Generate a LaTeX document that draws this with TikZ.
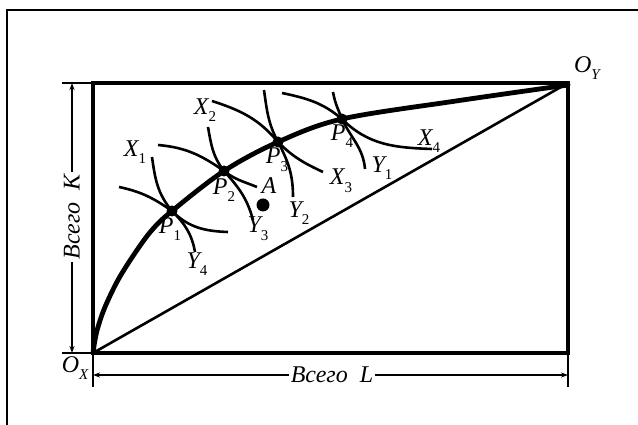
\documentclass[tikz,border=0pt]{standalone}
\usepackage{fontspec}
\setmainfont{Liberation Serif}
\usetikzlibrary{arrows.meta}
\newcommand{\lb}[2]{\textit{#1}\raisebox{-0.32em}{\fontsize{15}{15}\selectfont #2}}
\begin{document}
\begin{tikzpicture}[x=1pt,y=1pt,
  box/.style={line width=3.8pt},
  ccurve/.style={line width=4.8pt, line cap=round},
  icurve/.style={line width=2.6pt},
  diag/.style={line width=2.6pt},
  dim/.style={line width=1.3pt},
  dimarrow/.style={dim, {Stealth[length=7pt,width=5pt]}-{Stealth[length=7pt,width=5pt]}},
  lab/.style={font=\fontsize{24}{26}\selectfont\itshape, inner sep=0pt},
  dimlab/.style={font=\fontsize{24}{26}\selectfont\itshape, fill=white, inner sep=2pt},
  pdot/.style={circle, fill, inner sep=0pt, minimum size=11pt},
  adot/.style={circle, fill, inner sep=0pt, minimum size=13pt},
]
\useasboundingbox (0,0) rectangle (638,425);
% outer frame
\coordinate (fa) at (7,0);
\coordinate (fb) at (7,415);
\coordinate (fc) at (638,415);
\draw[line width=1.6pt] (fa) -- (fb) -- (fc);

% corners
\coordinate (OX) at (93,72);
\coordinate (OY) at (568,342);
\coordinate (BR) at (568,72);
\coordinate (TL) at (93,342);

% points
\node[pdot] (P1) at (172,214) {};
\node[pdot] (P2) at (224,254) {};
\node[pdot] (P3) at (278,283) {};
\node[pdot] (P4) at (342,306) {};
\node[adot] (A) at (263,220) {};

% box
\draw[box] (OX) rectangle (OY);

% diagonal
\draw[diag] (OX) -- (OY);

% contract curve
\draw[ccurve] plot[smooth, tension=0.55] coordinates {(OX) (95,85) (98,98) (105,118) (118,145) (135,172) (152,195) (P1.center) (P2.center) (P3.center) (P4.center) (456,324) (568,340)};

% indifference curves
\coordinate (sX1) at (152,268); \coordinate (eX1) at (228,193);
\coordinate (sY4) at (119,238); \coordinate (eY4) at (195,173);
\draw[icurve] (sX1) to[out=-82,in=130] (P1.center) to[out=-45,in=178] (eX1);
\draw[icurve] (sY4) to[out=-12,in=145] (P1.center) to[out=-45,in=100] (eY4);

\coordinate (sX2) at (208,298); \coordinate (eX2) at (257,238);
\coordinate (sY3) at (158,280); \coordinate (eY3) at (253,205);
\draw[icurve] (sX2) to[out=-80,in=128] (P2.center) to[out=-38,in=158] (eX2);
\draw[icurve] (sY3) to[out=-5,in=145] (P2.center) to[out=-48,in=105] (eY3);

\coordinate (sX3) at (264,335); \coordinate (eX3) at (323,253);
\coordinate (sY2) at (212,324); \coordinate (eY2) at (293,228);
\draw[icurve] (sX3) to[out=-82,in=118] (P3.center) to[out=-45,in=155] (eX3);
\draw[icurve] (sY2) to[out=-18,in=130] (P3.center) to[out=-62,in=90] (eY2);

\coordinate (sX4) at (333,333); \coordinate (eX4) at (432,276);
\coordinate (sY1) at (282,332); \coordinate (eY1) at (365,256);
\draw[icurve] (sX4) to[out=-80,in=112] (P4.center) to[out=-45,in=178] (eX4);
\draw[icurve] (sY1) to[out=-12,in=140] (P4.center) to[out=-65,in=95] (eY1);

% labels
\node[lab] (lX1) at (135,273) {\lb{X}{\upshape 1}};
\node[lab] (lY4) at (197,161) {\lb{Y}{\upshape 4}};
\node[lab] (lP1) at (170,196) {\lb{P}{\upshape 1}};
\node[lab] (lX2) at (205,315) {\lb{X}{\upshape 2}};
\node[lab] (lY3) at (258,196) {\lb{Y}{\upshape 3}};
\node[lab] (lP2) at (224,235) {\lb{P}{\upshape 2}};
\node[lab] (lA) at (269,239) {A};
\node[lab] (lX3) at (341,244) {\lb{X}{\upshape 3}};
\node[lab] (lY2) at (299,212) {\lb{Y}{\upshape 2}};
\node[lab] (lP3) at (277,265) {\lb{P}{\upshape 3}};
\node[lab] (lX4) at (429,284) {\lb{X}{\upshape 4}};
\node[lab] (lY1) at (382,257) {\lb{Y}{\upshape 1}};
\node[lab] (lP4) at (342,289) {\lb{P}{\upshape 4}};
\node[lab] (lOY) at (587,357) {\lb{O}{Y}};
\node[lab] (lOX) at (75,57) {\lb{O}{X}};

% bottom dimension
\coordinate (tb1) at (93,38);
\coordinate (tb2) at (568,38);
\draw[dim] (OX) -- (tb1);
\draw[dim] (BR) -- (tb2);
\coordinate (db1) at (93,50);
\coordinate (db2) at (568,50);
\draw[dimarrow] (db1) -- (db2);
\node[dimlab] (lL) at (332,50) {Всего\ \ L};

% left dimension
\coordinate (tl1) at (62,342);
\coordinate (tl2) at (62,72);
\draw[dim] (tl1) -- (TL);
\draw[dim] (tl2) -- (OX);
\coordinate (dl1) at (72,342);
\coordinate (dl2) at (72,72);
\draw[dimarrow] (dl1) -- (dl2);
\node[dimlab, rotate=90] (lK) at (72,208) {Всего\ \ K};
\end{tikzpicture}
\end{document}
